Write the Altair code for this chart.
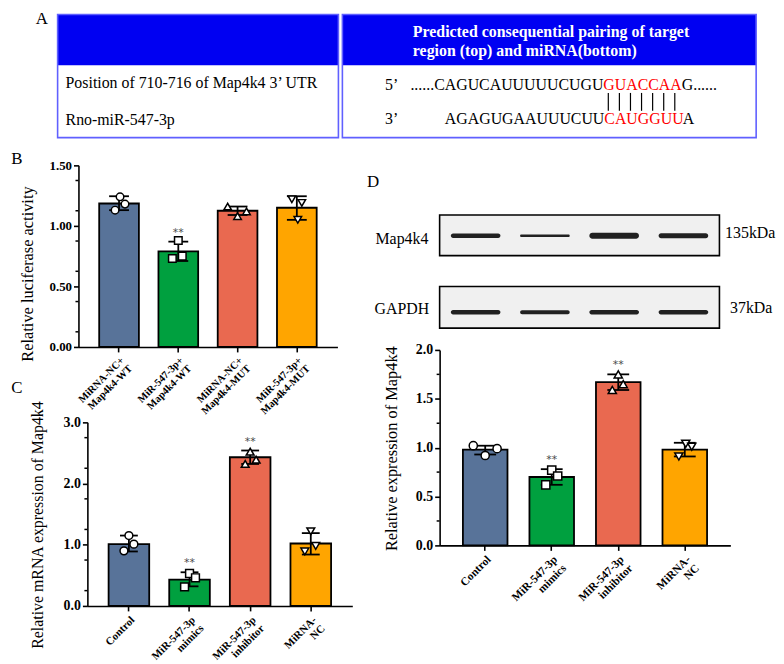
import altair as alt
import pandas as pd

# ---------------- data ----------------
COLORS = ["#587399", "#00A03F", "#E96950", "#FFA500"]
SHAPES = ["circle", "square", "triangle-up", "triangle-down"]

B_GROUPS = ["MiRNA-NC+\nMap4k4-WT", "MiR-547-3p+\nMap4k4-WT",
            "MiRNA-NC+\nMap4k4-MUT", "MiR-547-3p+\nMap4k4-MUT"]
B_MEAN = [1.185, 0.79, 1.125, 1.15]
B_LOW = [1.13, 0.71, 1.09, 1.05]
B_HIGH = [1.245, 0.87, 1.16, 1.245]
B_POINTS = [[1.24, 1.18, 1.13], [0.88, 0.75, 0.73], [1.16, 1.12, 1.08], [1.22, 1.19, 1.05]]
B_SIG = ["", "**", "", ""]
B_TICKS = [0.0, 0.25, 0.5, 0.75, 1.0, 1.25, 1.5]
B_MINOR = [0.125, 0.375, 0.625, 0.875, 1.125, 1.375]

C_GROUPS = ["Control", "MiR-547-3p\nmimics", "MiR-547-3p\ninhibitor", "MiRNA-\nNC"]
C_MEAN = [1.01, 0.43, 2.43, 1.02]
C_LOW = [0.89, 0.32, 2.32, 0.84]
C_HIGH = [1.15, 0.55, 2.54, 1.19]
C_POINTS = [[1.15, 1.01, 0.90], [0.53, 0.46, 0.31], [2.52, 2.39, 2.32], [1.22, 0.98, 0.89]]
C_SIG = ["", "**", "**", ""]
C_TICKS = [0.0, 0.5, 1.0, 1.5, 2.0, 2.5, 3.0]
C_MINOR = [0.25, 0.75, 1.25, 1.75, 2.25, 2.75]

D_GROUPS = ["Control", "MiR-547-3p\nmimics", "MiR-547-3p\ninhibitor", "MiRNA-\nNC"]
D_MEAN = [0.98, 0.70, 1.67, 0.98]
D_LOW = [0.93, 0.62, 1.59, 0.91]
D_HIGH = [1.02, 0.78, 1.75, 1.05]
D_POINTS = [[1.02, 0.99, 0.92], [0.77, 0.71, 0.62], [1.75, 1.65, 1.59], [1.04, 1.01, 0.91]]
D_SIG = ["", "**", "**", ""]
D_TICKS = [0.0, 0.5, 1.0, 1.5, 2.0]
D_MINOR = [0.25, 0.75, 1.25, 1.75]

# western blot band strengths (band thickness, px) per lane
BLOT_ROWS = ["Map4k4", "GAPDH"]
BLOT_KDA = ["135kDa", "37kDa"]
MAP4K4_BAND = [4.5, 2.5, 6.0, 5.0]
GAPDH_BAND = [4.5, 4.0, 4.5, 4.5]

# table A
TABLE_HEADER = ["Predicted consequential pairing of target", "region (top) and miRNA(bottom)"]
TABLE_ROWS = ["Position of 710-716 of Map4k4 3\u2019 UTR", "Rno-miR-547-3p"]
SEQ_TOP = ["5\u2019", "......CAGUCAUUUUUCUGU", "GUACCAA", "G......"]
SEQ_BOT = ["3\u2019", "AGAGUGAAUUUCUU", "CAUGGUU", "A"]
PAIRS = list(range(7))

# ---------------- layout / style ----------------
SERIF = "Liberation Serif"
JIT_B = [[1, 6, -4], [0, 4, -6], [-10, 9, 0], [-5, 5, 1]]   # point jitter, px
JIT_C = [[0, 5, -5], [0, 6, -5], [0, 6, -5], [0, 5, -6]]
JIT_D = [[-12, 12, 0], [0, 6, -6], [0, 5, -6], [1, 7, -6]]
P_IN, P_OUT = 0.33, 0.35
RES = dict(color="independent", shape="independent", x="independent", y="independent")


def one(**kw):
    return pd.DataFrame({k: [v] for k, v in kw.items()})


def spacer(w, h=1):
    return alt.Chart(one(d=0)).mark_point(opacity=0).encode(
        x=alt.value(0), y=alt.value(0)).properties(width=w, height=h)


def txt(t, x, y, size=16, weight="normal", color="black", align="center", baseline="middle"):
    return alt.Chart(one(t=t)).mark_text(
        font=SERIF, fontSize=size, fontWeight=weight, color=color,
        align=align, baseline=baseline).encode(
        text="t:N", x=alt.value(x), y=alt.value(y))


def bar_panel(groups, mean, low, high, points, jit, sig, ydom, ticks, minor, yfmt,
              ytitle, tx, ty, w, h, lab, xlab, ttl, cap, msize, letter=None, lxy=None):
    n = len(groups)
    span = n - P_IN + 2 * P_OUT          # band-scale range in steps
    step = w / span
    c0 = P_OUT + (1 - P_IN) / 2          # centre of first band, in steps
    df = pd.DataFrame({"g": groups, "m": mean, "lo": low, "hi": high, "sig": sig})
    rows = []
    for gi, g in enumerate(groups):
        for pi, v in enumerate(points[gi]):
            rows.append({"g": g, "v": v, "pos": gi + jit[gi][pi] / step})
    pdf = pd.DataFrame(rows)
    xsc = alt.Scale(domain=groups, paddingInner=P_IN, paddingOuter=P_OUT)
    x = alt.X("g:N", sort=groups, scale=xsc, axis=alt.Axis(
        title=None, labelAngle=-45, labelAlign="right", labelBaseline="top",
        labelExpr="split(datum.label, '\\n')", labelFontSize=xlab,
        labelFontWeight="bold", labelPadding=3, labelLineHeight=xlab + 1,
        labelOverlap=False, tickSize=5))
    ysc = alt.Scale(domain=ydom, nice=False, zero=True)
    y = alt.Y("m:Q", scale=ysc, axis=alt.Axis(
        values=ticks, format=yfmt, title=ytitle, titleX=tx, titleY=ty,
        titleAngle=-90, titleBaseline="middle", titleAlign="center",
        titleFontSize=ttl, labelFontSize=lab, labelFontWeight="bold",
        tickSize=5, labelPadding=2))
    bars = alt.Chart(df).mark_bar(stroke="black", strokeWidth=1.8).encode(
        x=x, y=y,
        color=alt.Color("g:N", scale=alt.Scale(domain=groups, range=COLORS), legend=None))
    err = alt.Chart(df).mark_rule(color="black", strokeWidth=1.8).encode(
        x=alt.X("g:N", sort=groups), y="lo:Q", y2="hi:Q")
    caph = alt.Chart(df).mark_tick(orient="horizontal", color="black", thickness=1.8,
                                   size=cap, opacity=1).encode(
        x=alt.X("g:N", sort=groups), y="hi:Q")
    capl = alt.Chart(df).mark_tick(orient="horizontal", color="black", thickness=1.8,
                                   size=cap, opacity=1).encode(
        x=alt.X("g:N", sort=groups), y="lo:Q")
    mdf = pd.DataFrame({"v": minor})
    minors = alt.Chart(mdf).mark_rule(color="black", strokeWidth=1.5).encode(
        y="v:Q", x=alt.value(-3), x2=alt.value(0))
    stars = alt.Chart(df).transform_filter(alt.datum.sig != "").mark_text(
        font="DejaVu Sans", fontSize=11, color="#4a4a4a", dy=-9, baseline="middle").encode(
        x=alt.X("g:N", sort=groups), y="hi:Q", text="sig:N")
    base = alt.layer(bars, err, caph, capl, minors, stars)
    pts = alt.Chart(pdf).mark_point(
        filled=True, fill="white", stroke="black", strokeWidth=1.5, size=msize,
        opacity=1).encode(
        x=alt.X("pos:Q", scale=alt.Scale(domain=[-c0, span - c0], nice=False, zero=False),
                axis=None),
        y="v:Q",
        shape=alt.Shape("g:N", scale=alt.Scale(domain=groups, range=SHAPES), legend=None))
    layers = [base, pts]
    if letter:
        layers.append(txt(letter, lxy[0], lxy[1], size=17))
    return alt.layer(*layers).resolve_scale(x="independent").properties(width=w, height=h)


# ---------------- panel A (table) ----------------
HB = "#0000F2"
OUT = "#6060FF"
a_layers = [
    alt.Chart(one(d=0)).mark_rect(fill=HB).encode(
        x=alt.value(47), x2=alt.value(330), y=alt.value(3), y2=alt.value(54)),
    alt.Chart(one(d=0)).mark_rect(fill=HB).encode(
        x=alt.value(334), x2=alt.value(751), y=alt.value(3), y2=alt.value(54)),
    alt.Chart(one(d=0)).mark_rect(fill=None, stroke=OUT, strokeWidth=1.6).encode(
        x=alt.value(47), x2=alt.value(330), y=alt.value(3), y2=alt.value(127)),
    alt.Chart(one(d=0)).mark_rect(fill=None, stroke=OUT, strokeWidth=1.6).encode(
        x=alt.value(334), x2=alt.value(751), y=alt.value(3), y2=alt.value(127)),
    txt("A", 31, 0, size=17, baseline="top"),
    txt(TABLE_HEADER[0], 405, 21, size=16, weight="bold", color="white", align="left"),
    txt(TABLE_HEADER[1], 405, 40, size=16, weight="bold", color="white", align="left"),
    txt(TABLE_ROWS[0], 55, 72, size=16, align="left"),
    txt(TABLE_ROWS[1], 55, 109, size=16, align="left"),
    txt(SEQ_TOP[0], 377, 74, size=16, align="left"),
    txt(SEQ_TOP[1], 597, 74, size=16, align="right"),
    txt(SEQ_TOP[2], 597, 74, size=16, align="left", color="#FF0000"),
    txt(SEQ_TOP[3], 676, 74, size=16, align="left"),
    txt(SEQ_BOT[0], 377, 108, size=16, align="left"),
    txt(SEQ_BOT[1], 598, 108, size=16, align="right"),
    txt(SEQ_BOT[2], 598, 108, size=16, align="left", color="#FF0000"),
    txt(SEQ_BOT[3], 677, 108, size=16, align="left"),
    alt.Chart(pd.DataFrame({"i": PAIRS})).mark_rule(color="black", strokeWidth=1.2).encode(
        x=alt.X("i:Q", scale=alt.Scale(domain=[0, 6], range=[602, 669]), axis=None),
        y=alt.value(82), y2=alt.value(100)),
]
panel_a = alt.layer(*a_layers).properties(width=768, height=130)

# ---------------- panel B, C, D ----------------
panel_b = bar_panel(B_GROUPS, B_MEAN, B_LOW, B_HIGH, B_POINTS, JIT_B, B_SIG,
                    [0, 1.5], B_TICKS, B_MINOR, ".2f", "Relative luciferase activity",
                    -51, 109, 261, 183, 13, 10.5, 16.5, 20, 58, "B", (-62, -6))
panel_c = bar_panel(C_GROUPS, C_MEAN, C_LOW, C_HIGH, C_POINTS, JIT_C, C_SIG,
                    [0, 3], C_TICKS, C_MINOR, ".1f", "Relative mRNA expression of Map4k4",
                    -50, 103, 267, 185, 14, 11, 16, 18, 62, "C", (-71, -35))
panel_d = bar_panel(D_GROUPS, D_MEAN, D_LOW, D_HIGH, D_POINTS, JIT_D, D_SIG,
                    [0, 2], D_TICKS, D_MINOR, ".1f", "Relative  expression of Map4k4",
                    -48, 99, 293, 197, 14, 11.5, 16.5, 22, 68)

# ---------------- western blot ----------------
BW = 282
blot_layers = [
    alt.Chart(one(d=0)).mark_rect(fill="#F0F0F0", stroke="black", strokeWidth=1.6).encode(
        x=alt.value(0), x2=alt.value(BW), y=alt.value(50), y2=alt.value(91)),
    alt.Chart(one(d=0)).mark_rect(fill="#F0F0F0", stroke="black", strokeWidth=1.6).encode(
        x=alt.value(0), x2=alt.value(BW), y=alt.value(122), y2=alt.value(164)),
]
lane_scale = alt.Scale(domain=D_GROUPS, paddingInner=0, paddingOuter=0.02)
for ri, (bands, yc) in enumerate([(MAP4K4_BAND, 71), (GAPDH_BAND, 148)]):
    for li, t in enumerate(bands):
        bdf = pd.DataFrame({"lane": [D_GROUPS[li]], "row": [BLOT_ROWS[ri]]})
        blot_layers.append(
            alt.Chart(bdf).mark_tick(orient="horizontal", thickness=t, color="#151515",
                                     cornerRadius=t / 2, opacity=0.95).encode(
                x=alt.X("lane:N", sort=D_GROUPS, scale=lane_scale, axis=None),
                y=alt.value(yc), size=alt.value(50)))
blot_layers += [
    txt("D", -67, 17, size=17),
    txt(BLOT_ROWS[0], -38, 74, size=16),
    txt(BLOT_ROWS[1], -38, 145, size=16),
    txt(BLOT_KDA[0], 313, 68, size=16),
    txt(BLOT_KDA[1], 314, 144, size=16),
]
blot = alt.layer(*blot_layers).properties(width=BW, height=176)

# ---------------- assemble ----------------
# (in "flush" layout a nested concat counts as zero width, so the spacer after the
#  left column also covers the column's own width: 276 + 88)
c_row = alt.hconcat(spacer(9), panel_c, spacing=0, bounds="flush").resolve_scale(**RES)
left_col = alt.vconcat(panel_b, c_row, spacing=76, bounds="flush").resolve_scale(**RES)
right_col = alt.vconcat(blot, panel_d, spacing=10, bounds="flush").resolve_scale(**RES)
row2 = alt.hconcat(spacer(68), left_col, spacer(364), right_col, spacing=0,
                   bounds="flush").resolve_scale(**RES)
chart = alt.vconcat(panel_a, row2, spacing=25, bounds="flush").resolve_scale(**RES).properties(
    padding=0
).configure_view(stroke=None).configure_axis(
    domainColor="black", domainWidth=1.6, tickColor="black", tickWidth=1.6,
    labelColor="black", titleColor="black", labelFont=SERIF, titleFont=SERIF,
    titleFontWeight="normal", grid=False
)

chart.save("out.html", embed_options={"renderer": "svg", "actions": False})
